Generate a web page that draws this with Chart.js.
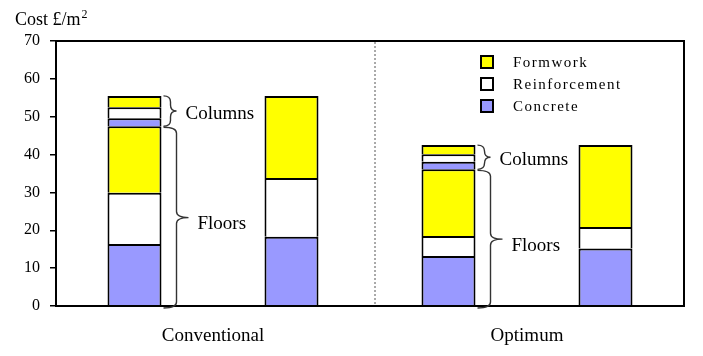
<!DOCTYPE html>
<html>
<head>
<meta charset="utf-8">
<script src="https://cdn.jsdelivr.net/npm/chart.js@4/dist/chart.umd.min.js"></script>
<style>
  html, body { margin: 0; padding: 0; background: #fff; }
  #wrap { width: 703px; height: 356px; position: relative; }
</style>
</head>
<body>
<div id="wrap"><canvas id="c" width="703" height="356"></canvas></div>
<script>
// ---- data ----
const barKeys = ['Conventional-split', 'Conventional-total', 'Optimum-split', 'Optimum-total'];
const groupLabels = ['Conventional', 'Optimum'];
const yTicks = [0, 10, 20, 30, 40, 50, 60, 70];

const floorConcrete       = [16.4, 18.3, 13.2, 15.2];
const floorReinforcement  = [13.5, 15.5, 5.3, 5.7];
const floorFormwork       = [17.6, 21.7, 17.6, 21.6];
const columnConcrete      = [2.1, null, 2.0, null];
const columnReinforcement = [2.9, null, 2.0, null];
const columnFormwork      = [3.0, null, 2.4, null];

const legendItems = ['Formwork', 'Reinforcement', 'Concrete'];
const annotationTexts = ['Columns', 'Floors'];
const yTitle = 'Cost £/m';
const yTitleSup = '2';

const COL_CONCRETE = '#9999FF';
const COL_REINF = '#FFFFFF';
const COL_FORM = '#FFFF00';
const SERIF = '"Liberation Serif", "Times New Roman", serif';

const datasets = [
  { label: 'Floors concrete', data: floorConcrete, backgroundColor: COL_CONCRETE },
  { label: 'Floors reinforcement', data: floorReinforcement, backgroundColor: COL_REINF },
  { label: 'Floors formwork', data: floorFormwork, backgroundColor: COL_FORM },
  { label: 'Columns concrete', data: columnConcrete, backgroundColor: COL_CONCRETE },
  { label: 'Columns reinforcement', data: columnReinforcement, backgroundColor: COL_REINF },
  { label: 'Columns formwork', data: columnFormwork, backgroundColor: COL_FORM }
];

datasets.forEach(d => {
  d.borderColor = '#000';
  d.borderSkipped = false;
  d.borderWidth = { left: 2, right: 2, top: 2, bottom: 0 };
  d.inflateAmount = 0;
  d.barPercentage = 0.344;
  d.categoryPercentage = 1.0;
  d.xAxisID = 'x';
});

function drawBrace(ctx, x0, yTop, yBot, w1, w2) {
  const ym = (yTop + yBot) / 2;
  const xv = x0 + w1;
  const r = Math.min(6, (yBot - yTop) / 4);
  ctx.beginPath();
  ctx.moveTo(x0, yTop);
  ctx.quadraticCurveTo(xv, yTop, xv, yTop + r);
  ctx.lineTo(xv, ym - r);
  ctx.quadraticCurveTo(xv, ym, x0 + w2, ym);
  ctx.quadraticCurveTo(xv, ym, xv, ym + r);
  ctx.lineTo(xv, yBot - r);
  ctx.quadraticCurveTo(xv, yBot, x0, yBot);
  ctx.stroke();
}

const decor = {
  id: 'decor',
  afterDraw(chart) {
    const ctx = chart.ctx;
    const a = chart.chartArea;
    const ys = chart.scales.y;
    const xs = chart.scales.x;
    ctx.save();
    // frame
    ctx.strokeStyle = '#000';
    ctx.lineWidth = 2;
    ctx.strokeRect(a.left, a.top, a.right - a.left, a.bottom - a.top);
    // divider between groups
    const xd = (xs.getPixelForValue(1) + xs.getPixelForValue(2)) / 2 + 5;
    ctx.setLineDash([2, 2]);
    ctx.lineWidth = 1;
    ctx.strokeStyle = '#555';
    ctx.beginPath();
    ctx.moveTo(xd, a.top + 1);
    ctx.lineTo(xd, a.bottom);
    ctx.stroke();
    ctx.setLineDash([]);

    // braces + annotations on split bars
    const meta = chart.getDatasetMeta(0);
    [0, 2].forEach(i => {
      const bar = meta.data[i];
      const x0 = bar.x + bar.width / 2 + 2;
      const floorTop = floorConcrete[i] + floorReinforcement[i] + floorFormwork[i];
      const colTop = floorTop + columnConcrete[i] + columnReinforcement[i] + columnFormwork[i];
      const yB = ys.getPixelForValue(0);
      const yF = ys.getPixelForValue(floorTop);
      const yC = ys.getPixelForValue(colTop);
      ctx.strokeStyle = '#333';
      ctx.lineWidth = 1.4;
      drawBrace(ctx, x0, yC, yF, 7, 13);
      drawBrace(ctx, x0, yF + 1, yB + 2, 13, 25);
      ctx.fillStyle = '#000';
      ctx.font = '19px ' + SERIF;
      ctx.textBaseline = 'middle';
      ctx.textAlign = 'left';
      ctx.fillText(annotationTexts[0], x0 + 22, (yC + yF) / 2 + 3);
      ctx.fillText(annotationTexts[1], x0 + 34, (yF + yB) / 2 + 8);
    });

    // legend
    const legendColors = [COL_FORM, COL_REINF, COL_CONCRETE];
    const lx = 481, ly0 = 62, dy = 22;
    legendItems.forEach((t, k) => {
      const cy = ly0 + k * dy;
      ctx.fillStyle = legendColors[k];
      ctx.fillRect(lx, cy - 6, 12, 12);
      ctx.strokeStyle = '#000';
      ctx.lineWidth = 2;
      ctx.strokeRect(lx, cy - 6, 12, 12);
      ctx.fillStyle = '#000';
      ctx.font = '15px ' + SERIF;
      ctx.letterSpacing = '1.5px';
      ctx.textBaseline = 'middle';
      ctx.textAlign = 'left';
      ctx.fillText(t, 513, cy + 1);
      ctx.letterSpacing = '0px';
    });

    // y title
    ctx.fillStyle = '#000';
    ctx.textBaseline = 'alphabetic';
    ctx.textAlign = 'left';
    ctx.font = '18px ' + SERIF;
    ctx.fillText(yTitle, 15, 25);
    const w = ctx.measureText(yTitle).width;
    ctx.font = '12px ' + SERIF;
    ctx.fillText(yTitleSup, 15 + w + 1, 18);
    ctx.restore();
  }
};

new Chart(document.getElementById('c'), {
  type: 'bar',
  data: { labels: barKeys, datasets },
  options: {
    responsive: false,
    animation: false,
    events: [],
    layout: { padding: { left: 0, right: 19, top: 41, bottom: 0 } },
    plugins: { legend: { display: false }, tooltip: { enabled: false }, title: { display: false } },
    scales: {
      x: {
        type: 'category',
        stacked: true,
        display: true,
        grid: { display: false },
        border: { display: false },
        ticks: { display: false },
        afterFit(s) { s.height = 0; }
      },
      x2: {
        type: 'category',
        position: 'bottom',
        labels: groupLabels,
        offset: true,
        grid: { display: false },
        border: { display: true, color: '#000', width: 2 },
        ticks: { color: '#000', font: { family: SERIF, size: 19 }, padding: 11, maxRotation: 0 },
        afterFit(s) { s.height = 50; }
      },
      y: {
        stacked: true,
        min: 0,
        max: 70,
        afterBuildTicks(s) { s.ticks = yTicks.map(v => ({ value: v })); },
        grid: { display: true, drawOnChartArea: false, drawTicks: true, tickLength: 6, color: '#000', lineWidth: 1.5 },
        border: { display: true, color: '#000', width: 2 },
        ticks: { color: '#000', font: { family: SERIF, size: 16 }, padding: 10 },
        afterFit(s) { s.width = 56; }
      }
    }
  },
  plugins: [decor]
});
</script>
</body>
</html>
